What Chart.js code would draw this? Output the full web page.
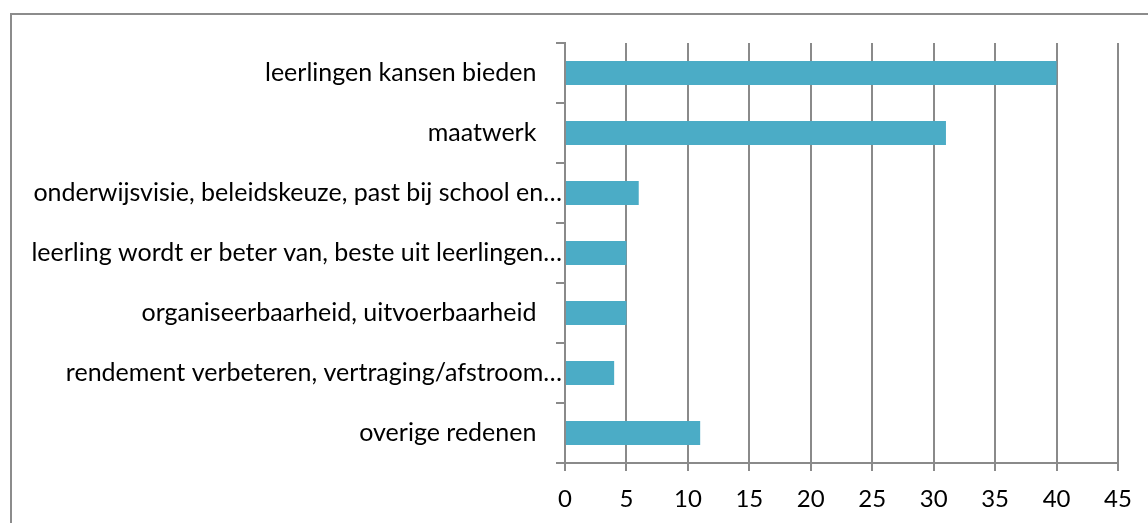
<!DOCTYPE html>
<html>
<head>
<meta charset="utf-8">
<script src="https://cdn.jsdelivr.net/npm/chart.js@4/dist/chart.umd.min.js"></script>
<style>
    body { margin: 0; background: #fff; overflow: hidden; }
    #wrap { position: relative; width: 1148px; height: 523px; }
    #frame {
        position: absolute; left: 10px; top: 13px; width: 1200px; height: 600px;
        border: 2px solid #8c8c8c; pointer-events: none;
    }
    canvas { position: absolute; left: 0; top: 0; }
</style>
</head>
<body>
<div id="wrap">
    <div id="frame"></div>
    <canvas id="chart" width="1148" height="523"></canvas>
</div>
<script>
// category labels keep the trailing spaces of the source sheet
const categories = [
    "leerlingen kansen bieden    ",
    "maatwerk    ",
    "onderwijsvisie, beleidskeuze, past bij school en…",
    "leerling wordt er beter van, beste uit leerlingen…",
    "organiseerbaarheid, uitvoerbaarheid    ",
    "rendement verbeteren, vertraging/afstroom…",
    "overige redenen    "
];
const counts = [40, 31, 6, 5, 5, 4, 11];
const xTicks = [0, 5, 10, 15, 20, 25, 30, 35, 40, 45];

const barColor = "#4bacc6";
const lineColor = "#8a8a8a";

Chart.defaults.font.family = "Lato, 'Open Sans', sans-serif";
Chart.defaults.color = "#000";

const config = {
    type: 'bar',
    data: {
        labels: categories,
        datasets: [{
            data: counts,
            backgroundColor: barColor,
            borderWidth: 0,
            barPercentage: 0.4,
            categoryPercentage: 1
        }]
    },
    options: {
        indexAxis: 'y',
        responsive: false,
        animation: false,
        layout: {
            padding: { left: 0, top: 43, right: 30, bottom: 0 }
        },
        plugins: {
            legend: { display: false },
            tooltip: { enabled: false }
        },
        scales: {
            x: {
                min: 0,
                max: 45,
                afterBuildTicks: (scale) => {
                    scale.ticks = xTicks.map(v => ({ value: v }));
                },
                afterFit: (scale) => {
                    scale.height = 60;
                },
                grid: {
                    color: lineColor,
                    lineWidth: 2,
                    tickLength: 8
                },
                border: { color: lineColor, width: 2 },
                ticks: {
                    font: { size: 24 },
                    padding: 14,
                    maxRotation: 0
                }
            },
            y: {
                afterFit: (scale) => {
                    scale.width = 565;
                },
                grid: {
                    drawOnChartArea: false,
                    color: lineColor,
                    lineWidth: 2,
                    tickLength: 9
                },
                border: { color: lineColor, width: 2 },
                ticks: {
                    font: { size: 25 },
                    padding: -6,
                    autoSkip: false
                }
            }
        }
    }
};

new Chart(document.getElementById('chart'), config);
</script>
</body>
</html>
